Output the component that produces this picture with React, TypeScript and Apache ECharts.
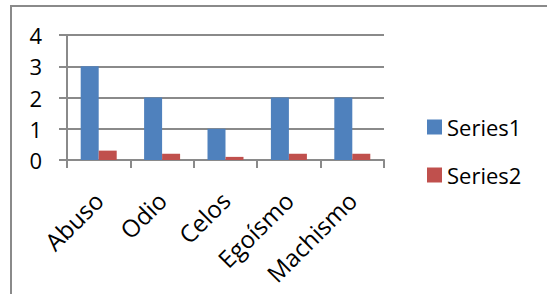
import React, { useEffect, useRef } from "react";
import * as echarts from "echarts";

const categories = ["Abuso", "Odio", "Celos", "Egoísmo", "Machismo"];
const series1 = [3, 2, 1, 2, 2];
const series2 = [0.3, 0.2, 0.1, 0.2, 0.2];
const seriesNames = ["Series1", "Series2"];
const yTicks = { min: 0, max: 4, interval: 1 };

const FONT = "Open Sans";
const GRAY = "#8a8a8a";

export default function App() {
  const ref = useRef<HTMLDivElement>(null);
  useEffect(() => {
    if (!ref.current) return;
    const chart = echarts.init(ref.current, null, { renderer: "svg" });
    chart.setOption({
      animation: false,
      backgroundColor: "#ffffff",
      textStyle: { fontFamily: FONT },
      graphic: [
        {
          type: "rect",
          shape: { x: 11, y: 6, width: 560, height: 320 },
          style: { fill: "none", stroke: GRAY, lineWidth: 2 },
          silent: true,
        },
      ],
      grid: { left: 67, top: 35, width: 317, height: 125, containLabel: false },
      legend: {
        orient: "vertical",
        left: 427,
        top: 116,
        padding: 0,
        itemWidth: 15,
        itemHeight: 15,
        itemGap: 26,
        icon: "rect",
        textStyle: { fontSize: 22, fontFamily: FONT, color: "#000" },
        data: seriesNames,
      },
      xAxis: {
        type: "category",
        data: categories,
        axisLine: { show: true, lineStyle: { color: GRAY, width: 2 } },
        axisTick: { show: true, length: 8, lineStyle: { color: GRAY, width: 2 } },
        axisLabel: {
          rotate: 45,
          margin: 36,
          fontSize: 24,
          fontFamily: FONT,
          color: "#000",
          interval: 0,
        },
        splitLine: { show: false },
      },
      yAxis: {
        type: "value",
        min: yTicks.min,
        max: yTicks.max,
        interval: yTicks.interval,
        axisLine: { show: true, lineStyle: { color: GRAY, width: 2 } },
        axisTick: { show: true, length: 8, lineStyle: { color: GRAY, width: 2 } },
        axisLabel: { margin: 25, fontSize: 22, fontFamily: FONT, color: "#000" },
        splitLine: { show: true, lineStyle: { color: GRAY, width: 2 } },
      },
      series: [
        {
          name: seriesNames[0],
          type: "bar",
          data: series1,
          barWidth: 18,
          barGap: "0%",
          itemStyle: { color: "#4F81BD" },
        },
        {
          name: seriesNames[1],
          type: "bar",
          data: series2,
          barWidth: 18,
          barGap: "0%",
          itemStyle: { color: "#C0504D" },
        },
      ],
    });
    return () => chart.dispose();
  }, []);
  return (
    <div
      ref={ref}
      style={{ position: "fixed", left: 0, top: 0, width: 547, height: 294, background: "#fff" }}
    />
  );
}
